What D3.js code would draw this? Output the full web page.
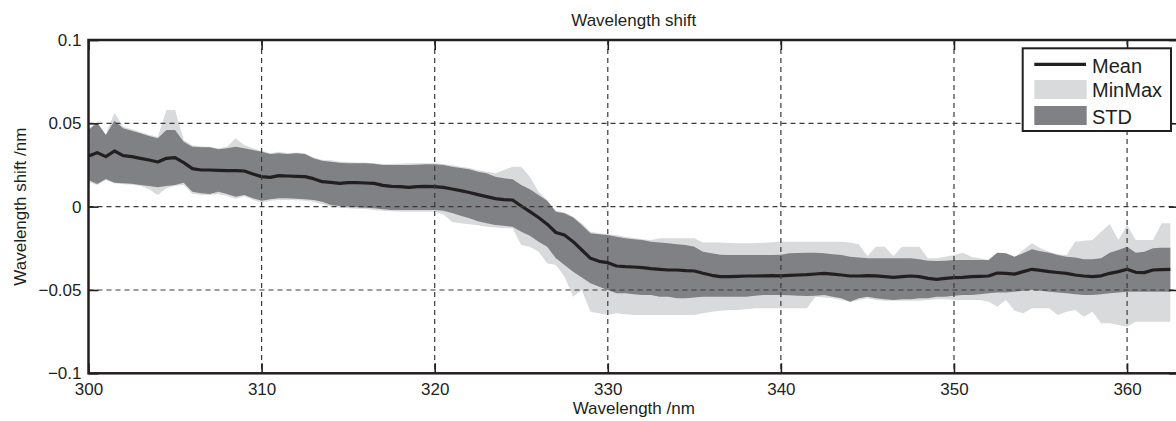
<!DOCTYPE html>
<html><head><meta charset="utf-8">
<script src="https://cdn.jsdelivr.net/npm/d3@7"></script>
<style>
body{margin:0;background:#fff}
svg{display:block}
text{font-family:"Liberation Sans",Arial,Helvetica,sans-serif;fill:#231f20}
</style>
</head><body>
<svg id="c" width="1176" height="421"></svg>
<script>
const wavelength=[300,300.5,301,301.5,302,302.5,303,303.5,304,304.5,305,305.5,306,306.5,307,307.5,308,308.5,309,309.5,
310,310.5,311,311.5,312,312.5,313,313.5,314,314.5,315,315.5,316,316.5,317,317.5,318,318.5,319,319.5,
320,320.5,321,321.5,322,322.5,323,323.5,324,324.5,325,325.5,326,326.5,327,327.5,328,328.5,329,329.5,
330,330.5,331,331.5,332,332.5,333,333.5,334,334.5,335,335.5,336,336.5,337,337.5,338,338.5,339,339.5,
340,340.5,341,341.5,342,342.5,343,343.5,344,344.5,345,345.5,346,346.5,347,347.5,348,348.5,349,349.5,
350,350.5,351,351.5,352,352.5,353,353.5,354,354.5,355,355.5,356,356.5,357,357.5,358,358.5,359,359.5,
360,360.5,361,361.5,362,362.5];
const meanShift=[0.0304,0.0324,0.030,0.0334,0.0306,0.030,0.029,0.028,0.0268,0.029,0.0294,0.0264,0.0228,0.022,0.022,0.0218,0.0216,0.0216,0.0214,0.0196,
0.018,0.0176,0.0186,0.0184,0.0182,0.018,0.0168,0.015,0.0146,0.014,0.0144,0.0144,0.0142,0.014,0.0128,0.0122,0.012,0.0116,0.012,0.0122,
0.012,0.0116,0.0106,0.0096,0.0085,0.0072,0.006,0.0048,0.0042,0.004,0.0004,-0.003,-0.0065,-0.0105,-0.0155,-0.017,-0.021,-0.026,-0.031,-0.0328,
-0.0336,-0.0356,-0.036,-0.0362,-0.0366,-0.0372,-0.0376,-0.038,-0.038,-0.0384,-0.0386,-0.040,-0.0412,-0.042,-0.042,-0.0418,-0.0416,-0.0416,-0.0415,-0.0414,
-0.0415,-0.0412,-0.041,-0.0408,-0.0404,-0.040,-0.0405,-0.041,-0.0416,-0.0416,-0.0414,-0.0415,-0.042,-0.0424,-0.042,-0.0416,-0.042,-0.043,-0.0436,-0.043,
-0.0426,-0.0424,-0.042,-0.0418,-0.0416,-0.0398,-0.040,-0.0405,-0.039,-0.0376,-0.0382,-0.039,-0.0395,-0.040,-0.041,-0.0416,-0.042,-0.0415,-0.040,-0.039,
-0.0376,-0.0394,-0.0396,-0.038,-0.0378,-0.0376];
const stdUpper=[0.046,0.0504,0.043,0.0516,0.047,0.0456,0.044,0.0424,0.041,0.046,0.046,0.039,0.036,0.0356,0.0356,0.0344,0.035,0.036,0.035,0.034,
0.033,0.0316,0.032,0.0316,0.032,0.0316,0.029,0.0276,0.027,0.0264,0.026,0.026,0.026,0.0258,0.025,0.025,0.025,0.025,0.0252,0.0254,
0.0254,0.025,0.024,0.0232,0.0225,0.021,0.020,0.018,0.017,0.0164,0.013,0.0105,0.007,0.0035,-0.003,-0.004,-0.0065,-0.011,-0.016,-0.0165,
-0.017,-0.018,-0.019,-0.0195,-0.020,-0.021,-0.0215,-0.022,-0.0225,-0.023,-0.024,-0.027,-0.028,-0.0288,-0.029,-0.029,-0.029,-0.029,-0.029,-0.029,
-0.0288,-0.028,-0.0278,-0.0276,-0.0276,-0.028,-0.0285,-0.029,-0.030,-0.0305,-0.031,-0.031,-0.031,-0.031,-0.031,-0.031,-0.0315,-0.0325,-0.0326,-0.0325,
-0.032,-0.032,-0.032,-0.032,-0.032,-0.0276,-0.028,-0.030,-0.028,-0.0256,-0.0268,-0.0276,-0.029,-0.030,-0.0305,-0.0315,-0.0316,-0.031,-0.0276,-0.026,
-0.024,-0.0276,-0.027,-0.025,-0.0246,-0.0246];
const stdLower=[0.016,0.0136,0.0166,0.0144,0.014,0.0138,0.013,0.0124,0.0116,0.0124,0.013,0.0144,0.009,0.008,0.0076,0.009,0.0076,0.006,0.007,0.005,
0.0036,0.0044,0.005,0.005,0.0048,0.0045,0.004,0.003,0.001,0.0004,0.0,-0.0004,-0.0006,-0.001,-0.0016,-0.002,-0.002,-0.002,-0.002,-0.002,
-0.002,-0.0025,-0.0038,-0.0055,-0.007,-0.0088,-0.010,-0.011,-0.0115,-0.012,-0.015,-0.0175,-0.021,-0.024,-0.031,-0.035,-0.039,-0.0425,-0.046,-0.048,
-0.050,-0.052,-0.052,-0.0525,-0.053,-0.053,-0.054,-0.054,-0.055,-0.055,-0.0545,-0.054,-0.054,-0.054,-0.054,-0.054,-0.054,-0.0535,-0.053,-0.053,
-0.053,-0.0532,-0.0535,-0.0536,-0.0535,-0.053,-0.054,-0.055,-0.057,-0.055,-0.054,-0.055,-0.0555,-0.056,-0.0555,-0.0555,-0.055,-0.055,-0.054,-0.054,
-0.0535,-0.053,-0.053,-0.0525,-0.052,-0.0515,-0.0515,-0.051,-0.0505,-0.050,-0.0505,-0.051,-0.0515,-0.052,-0.0525,-0.053,-0.053,-0.0525,-0.052,-0.0515,
-0.051,-0.051,-0.051,-0.051,-0.051,-0.051];
const maxShift=[0.047,0.0506,0.0435,0.0564,0.048,0.0465,0.0448,0.0432,0.0418,0.058,0.058,0.040,0.0368,0.0362,0.036,0.035,0.036,0.041,0.037,0.035,
0.0335,0.032,0.033,0.032,0.0325,0.032,0.0295,0.028,0.0278,0.027,0.0268,0.0265,0.0265,0.026,0.0256,0.0256,0.0258,0.026,0.026,0.026,
0.026,0.0256,0.0248,0.024,0.0232,0.0218,0.021,0.020,0.022,0.024,0.024,0.018,0.009,0.004,-0.0025,-0.0035,-0.006,-0.010,-0.015,-0.016,
-0.0165,-0.017,-0.018,-0.0188,-0.0195,-0.020,-0.019,-0.019,-0.019,-0.019,-0.019,-0.0215,-0.0215,-0.0215,-0.0218,-0.022,-0.022,-0.022,-0.0216,-0.0214,
-0.021,-0.021,-0.021,-0.021,-0.021,-0.021,-0.021,-0.021,-0.0215,-0.0226,-0.0296,-0.024,-0.024,-0.0296,-0.024,-0.024,-0.024,-0.031,-0.031,-0.030,
-0.029,-0.0276,-0.030,-0.031,-0.032,-0.0276,-0.028,-0.0305,-0.026,-0.022,-0.025,-0.027,-0.0285,-0.029,-0.021,-0.0205,-0.020,-0.015,-0.0104,-0.020,
-0.011,-0.020,-0.020,-0.020,-0.010,-0.010];
const minShift=[0.0148,0.013,0.016,0.014,0.0135,0.0132,0.0125,0.0105,0.007,0.011,0.0125,0.013,0.0078,0.0072,0.007,0.0075,0.0065,0.0048,0.0062,0.004,
0.0025,0.0035,0.004,0.004,0.0038,0.0035,0.003,0.0015,0.0,-0.0005,-0.001,-0.0012,-0.0014,-0.002,-0.0025,-0.0028,-0.003,-0.003,-0.003,-0.003,
-0.003,-0.0045,-0.0092,-0.010,-0.0105,-0.0112,-0.012,-0.0125,-0.0128,-0.013,-0.023,-0.024,-0.027,-0.034,-0.035,-0.042,-0.054,-0.050,-0.063,-0.064,
-0.065,-0.064,-0.0645,-0.065,-0.065,-0.065,-0.065,-0.065,-0.065,-0.065,-0.065,-0.064,-0.063,-0.0625,-0.062,-0.062,-0.0615,-0.061,-0.061,-0.061,
-0.061,-0.061,-0.061,-0.061,-0.054,-0.0545,-0.055,-0.056,-0.0572,-0.056,-0.055,-0.056,-0.0565,-0.0565,-0.0565,-0.0565,-0.0565,-0.056,-0.0555,-0.0555,
-0.056,-0.056,-0.056,-0.056,-0.057,-0.060,-0.056,-0.0625,-0.064,-0.061,-0.061,-0.061,-0.065,-0.063,-0.062,-0.066,-0.063,-0.070,-0.070,-0.071,
-0.072,-0.069,-0.069,-0.069,-0.069,-0.069];
const xTicks=[300,310,320,330,340,350,360];
const yTicks=[-0.1,-0.05,0,0.05,0.1];
const yTickLabels=["\u22120.1","\u22120.05","0","0.05","0.1"];
const legendLabels=["Mean","MinMax","STD"];
const titleText="Wavelength shift";
const xLabel="Wavelength /nm";
const yLabel="Wavelength shift /nm";

const C={ink:"#231f20",light:"#d9dadb",dark:"#808184",grid:"#3a3a3a"};
const m={l:88.5,t:40,r:1179,b:373.3};
const svg=d3.select("#c");
const x=d3.scaleLinear().domain([300,363]).range([m.l,m.r]);
const y=d3.scaleLinear().domain([-0.1,0.1]).range([m.b,m.t]);

const data=wavelength.map((w,i)=>({w,mean:meanShift[i],su:stdUpper[i],sl:stdLower[i],mx:maxShift[i],mn:minShift[i]}));

svg.append("defs").append("clipPath").attr("id","clip").append("rect")
  .attr("x",m.l).attr("y",m.t).attr("width",m.r-m.l).attr("height",m.b-m.t);
const plot=svg.append("g").attr("clip-path","url(#clip)");

plot.append("path").datum(data).attr("fill",C.light)
  .attr("d",d3.area().x(d=>x(d.w)).y0(d=>y(d.mn)).y1(d=>y(d.mx)));
plot.append("path").datum(data).attr("fill",C.dark)
  .attr("d",d3.area().x(d=>x(d.w)).y0(d=>y(d.sl)).y1(d=>y(d.su)));

// grid
const grid=svg.append("g").attr("stroke",C.grid).attr("stroke-width",1.2).attr("stroke-dasharray","5,4");
grid.selectAll("line.v").data(xTicks.filter(t=>t>300)).join("line").attr("class","v")
  .attr("x1",d=>x(d)).attr("x2",d=>x(d)).attr("y1",m.t).attr("y2",m.b);
grid.selectAll("line.h").data(yTicks.filter(t=>t>-0.1&&t<0.1)).join("line").attr("class","h")
  .attr("x1",m.l).attr("x2",m.r).attr("y1",d=>y(d)).attr("y2",d=>y(d));

plot.append("path").datum(data).attr("fill","none").attr("stroke",C.ink).attr("stroke-width",3.2)
  .attr("stroke-linejoin","round")
  .attr("d",d3.line().x(d=>x(d.w)).y(d=>y(d.mean)));

// axes
function style(g){
  g.select(".domain").remove();
  g.selectAll(".tick line").attr("stroke",C.ink).attr("stroke-width",1.6);
  g.selectAll(".tick text").attr("fill",C.ink).style("font-size","17px")
    .style("font-family","'Liberation Sans',Arial,Helvetica,sans-serif");
}
svg.append("g").attr("transform",`translate(0,${m.b})`)
  .call(d3.axisBottom(x).tickValues(xTicks).tickSizeInner(-10).tickSizeOuter(0).tickPadding(9.5)).call(style);
svg.append("g").attr("transform",`translate(0,${m.t})`)
  .call(d3.axisTop(x).tickValues(xTicks).tickSizeInner(-10).tickSizeOuter(0).tickFormat("")).call(style);
svg.append("g").attr("transform",`translate(${m.l},0)`)
  .call(d3.axisLeft(y).tickValues(yTicks).tickSizeInner(-10).tickSizeOuter(0).tickPadding(7)
    .tickFormat(d=>yTickLabels[yTicks.indexOf(d)])).call(style);
svg.append("g").attr("transform",`translate(${m.r},0)`)
  .call(d3.axisRight(y).tickValues(yTicks).tickSizeInner(-10).tickSizeOuter(0).tickFormat("")).call(style);

svg.append("rect").attr("x",m.l).attr("y",m.t).attr("width",m.r-m.l).attr("height",m.b-m.t)
  .attr("fill","none").attr("stroke",C.ink).attr("stroke-width",2.5);

// labels
svg.append("text").attr("x",(m.l+m.r)/2).attr("y",25.5).attr("text-anchor","middle").style("font-size","17px").text(titleText);
svg.append("text").attr("x",(m.l+m.r)/2).attr("y",413.5).attr("text-anchor","middle").style("font-size","17px").text(xLabel);
svg.append("text").attr("transform",`translate(25.5,${(m.t+m.b)/2}) rotate(-90)`).attr("text-anchor","middle").style("font-size","17px").text(yLabel);

// legend
const lg=svg.append("g");
lg.append("rect").attr("x",1022.7).attr("y",48.3).attr("width",148.3).attr("height",82.7)
  .attr("fill","#fff").attr("stroke",C.ink).attr("stroke-width",2);
lg.append("line").attr("x1",1034.3).attr("x2",1086).attr("y1",64.3).attr("y2",64.3).attr("stroke",C.ink).attr("stroke-width",3.2);
lg.append("rect").attr("x",1034.3).attr("y",80).attr("width",52.4).attr("height",19).attr("fill",C.light);
lg.append("rect").attr("x",1034.3).attr("y",106).attr("width",52.4).attr("height",19).attr("fill",C.dark);
const lgY=[72.5,97.3,124];
lg.selectAll("text").data(legendLabels).join("text").attr("x",1092).attr("y",(d,i)=>lgY[i])
  .style("font-size","20px").text(d=>d);
</script>
</body></html>
